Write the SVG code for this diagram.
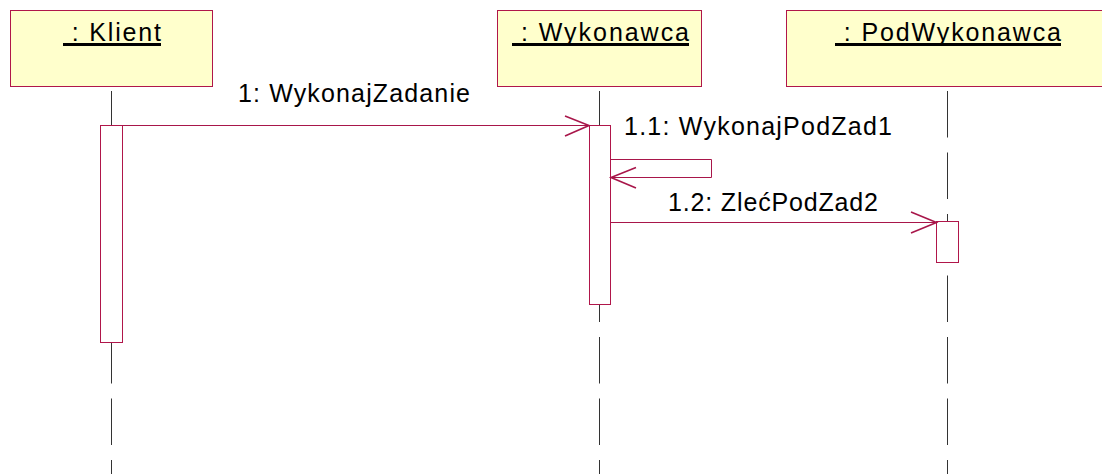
<svg xmlns="http://www.w3.org/2000/svg" width="1102" height="474" viewBox="0 0 1102 474">
  <style>
    .obj { fill: #FFFFCC; stroke: #B0164A; stroke-width: 1; }
    .act { fill: #FFFFFF; stroke: #B0164A; stroke-width: 1; }
    .life { stroke: #333333; stroke-width: 1; stroke-dasharray: 46.5 15; fill: none; }
    .msg { stroke: #A8164A; stroke-width: 1; fill: none; }
    .head { stroke: #A8164A; stroke-width: 1.6; fill: none; }
    .lbl { font-family: "Liberation Sans", Arial, sans-serif; font-size: 25px; fill: #000000; }
    .ul { stroke: #000000; stroke-width: 3; }
  </style>
  <rect width="1102" height="474" fill="#FFFFFF"/>

  <g id="lifelines">
    <line class="life" x1="111.5" y1="91" x2="111.5" y2="474"/>
    <line class="life" x1="599.5" y1="91" x2="599.5" y2="474"/>
    <line class="life" x1="947.5" y1="91" x2="947.5" y2="474"/>
  </g>

  <g id="klient">
    <rect class="obj" x="10.5" y="10.5" width="202" height="76"/>
    <text class="lbl" x="63" y="41" textLength="98" lengthAdjust="spacing">&#160;: Klient</text>
    <line class="ul" x1="63" y1="44.5" x2="161" y2="44.5"/>
    <rect class="act" x="100.5" y="125.5" width="22" height="217"/>
  </g>

  <g id="wykonawca">
    <rect class="obj" x="497.5" y="10.5" width="204" height="76"/>
    <text class="lbl" x="512" y="41" textLength="177" lengthAdjust="spacing">&#160;: Wykonawca</text>
    <line class="ul" x1="512" y1="44.5" x2="689" y2="44.5"/>
    <rect class="act" x="589.5" y="125.5" width="21" height="179"/>
  </g>

  <g id="podwykonawca">
    <rect class="obj" x="786.5" y="10.5" width="340" height="76"/>
    <text class="lbl" x="835" y="41" textLength="226" lengthAdjust="spacing">&#160;: PodWykonawca</text>
    <line class="ul" x1="835" y1="44.5" x2="1061" y2="44.5"/>
    <rect class="act" x="936.5" y="221.5" width="22" height="41"/>
  </g>

  <g id="connectors">
    <line class="msg" x1="122.5" y1="125.5" x2="589.5" y2="125.5"/>
    <polyline class="head" points="565,116 589,125.5 565,136"/>

    <polyline class="msg" points="610.5,159.5 711.5,159.5 711.5,177.5 610.5,177.5"/>
    <polyline class="head" points="636,167.5 611,177.5 636,188"/>

    <line class="msg" x1="610.5" y1="222.5" x2="936.5" y2="222.5"/>
    <polyline class="head" points="911,212 936.5,222.5 911,233"/>
  </g>

  <g id="labels">
    <text class="lbl" x="238" y="101.5" textLength="232" lengthAdjust="spacing">1: WykonajZadanie</text>
    <text class="lbl" x="624" y="135" textLength="268" lengthAdjust="spacing">1.1: WykonajPodZad1</text>
    <text class="lbl" x="668" y="210.5" textLength="210" lengthAdjust="spacing">1.2: ZlećPodZad2</text>
  </g>
</svg>
